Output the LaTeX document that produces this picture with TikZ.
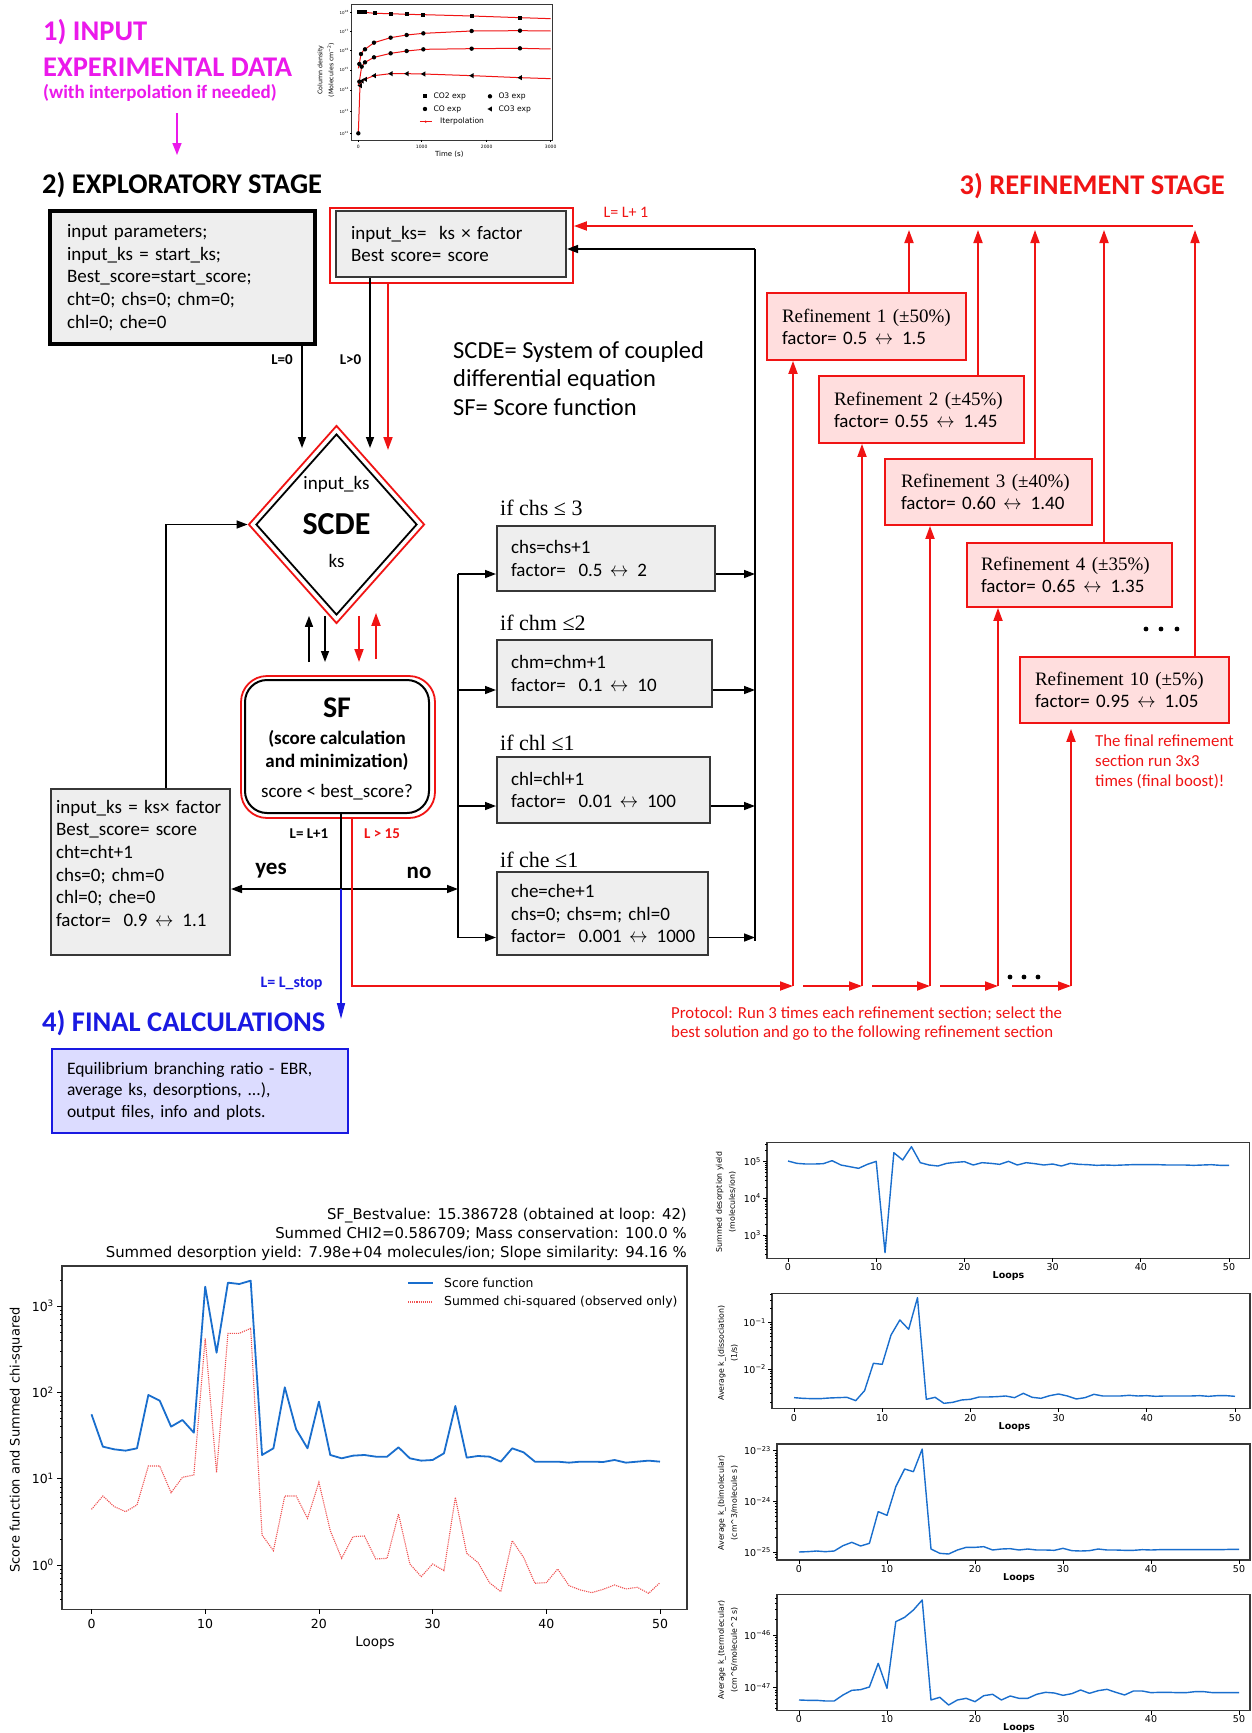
\documentclass[tikz,border=0pt]{standalone}
\usepackage{fontspec}
\usepackage{graphicx}
\setmainfont{Carlito}
\newfontfamily\tms{Liberation Serif}
\newfontfamily\plt{DejaVu Sans}
\usetikzlibrary{arrows.meta,shapes.geometric}
\definecolor{rd}{RGB}{240,20,20}
\definecolor{mag}{RGB}{235,25,235}
\definecolor{bl}{RGB}{25,25,225}
\definecolor{gfill}{RGB}{238,238,238}
\definecolor{pfill}{RGB}{255,222,222}
\definecolor{bfill}{RGB}{220,220,255}
\definecolor{pblue}{RGB}{25,110,205}
\definecolor{pred}{RGB}{240,80,80}
\definecolor{axc}{RGB}{55,55,55}
\newcommand\fsz[2]{\fontsize{#1}{#2}\selectfont}
\newcommand\lra{\kern1pt\scalebox{1.08}[1.2]{$\leftrightarrow$}\kern2.5pt}
\newcommand\minorticks[7]{%
  \foreach \ee in {#4,...,#5}{\foreach \kk in {2,...,9}{%
    \pgfmathsetmacro\yy{#2-#3*(\ee+log10(\kk))}%
    \pgfmathtruncatemacro\ok{and(\yy>#6,\yy<#7)}%
    \ifnum\ok=1 \draw[tk] (#1,\yy) -- ++(-2.5pt,0pt);\fi}}}
\tikzset{
  arr/.style={line width=1.5pt,-{Triangle[length=11pt,width=8pt]}},
  rarr/.style={draw=rd,line width=1.8pt,-{Triangle[length=13pt,width=9pt]}},
  barr/.style={draw=bl,line width=1.6pt,-{Triangle[length=16pt,width=8pt]}},
  gbox/.style={draw=axc,line width=2pt,fill=gfill,inner sep=0pt,align=left,font=\fsz{19}{22.7}},
  pbox/.style={draw=rd,line width=1.8pt,fill=pfill,inner sep=0pt,align=left,font=\fsz{19}{22}},
  lbl/.style={inner sep=0pt,font=\bfseries\fsz{15}{18}},
  ttl/.style={inner sep=0pt,anchor=west,font=\bfseries\fsz{28.5}{32}},
  txt/.style={inner sep=0pt},
  tk/.style={line width=0.8pt,draw=black},
  ax/.style={line width=1.2pt,draw=axc},
  pline/.style={line width=1.8pt,draw=pblue,line join=round},
  sline/.style={line width=1.4pt,draw=pblue,line join=round},
  rline/.style={line width=1.1pt,draw=pred,densely dotted},
  tiny/.style={inner sep=0pt,font=\plt\fsz{9.5}{12}},
}
\begin{document}
\begin{tikzpicture}[x=1pt,y=-1pt]
\useasboundingbox (0,0) rectangle (1251,1733);
\fill[white] (0,0) rectangle (1251,1733);

% ================= 1) INPUT =================
\node[ttl,text=mag] (t1a) at (43,32) {1) INPUT};
\node[ttl,text=mag] (t1b) at (43,67) {EXPERIMENTAL DATA};
\node[ttl,text=mag,font=\bfseries\fsz{19}{22}] (t1c) at (43,93) {(with interpolation if needed)};
\coordinate (mA) at (177,113);
\coordinate (mB) at (177,155);
\draw[draw=mag,line width=1.5pt,-{Triangle[length=12pt,width=9pt]}] (mA) -- (mB);

% small input plot
\begin{scope}[shift={(300,0)},x=0.3333pt,y=-0.3333pt]
  \draw[line width=0.9pt,draw=axc] (155,14) rectangle (757,420);
  \foreach \xx/\lab in {175/0,365/1000,560/2000,752/3000}{
    \draw[line width=0.6pt] (\xx,420) -- ++(0pt,-2pt);
    \node[txt,font=\plt\fsz{4.5}{5}] (sx\lab) at (\xx,440) {\lab};}
  \foreach \yv/\lab in {37/18,95/17,152/16,210/15,270/14,335/13,400/12}{
    \draw[line width=0.6pt] (155,\yv) -- ++(-2pt,0pt);
    \node[anchor=east,inner sep=1pt,font=\plt\fsz{4}{5}] (sy\lab) at (150,\yv) {10\textsuperscript{\lab}};}
  \node[txt,font=\plt\fsz{7}{8}] (stime) at (448,462) {Time (s)};
  \node[txt,rotate=90,align=center,font=\plt\fsz{6.3}{11}] (sylab) at (78,210) {Column density\\(Molecules cm\textsuperscript{−2})};
  \draw[rd,line width=1pt] (175,37) -- (186,37) -- (194,37) -- (225,40) -- (272,41) -- (320,43) -- (370,44) -- (515,48) -- (660,53) -- (752,56);
  \draw[rd,line width=1pt] (175,205) -- (178,192) -- (183,162) -- (190,152) -- (195,148) -- (222,128) -- (272,113) -- (320,105) -- (370,100) -- (515,93) -- (660,92) -- (752,93);
  \draw[rd,line width=1pt] (175,255) -- (178,245) -- (185,200) -- (195,187) -- (222,172) -- (272,160) -- (320,153) -- (370,148) -- (515,146) -- (660,145) -- (752,147);
  \draw[rd,line width=1pt] (175,400) -- (180,257) -- (185,243) -- (195,238) -- (222,227) -- (272,221) -- (320,221) -- (370,222) -- (515,227) -- (660,233) -- (752,236);
  \foreach \pa/\pb in {178/37,186/37,194/37,225/40,272/41,320/43,370/44,515/48,660/53}
    \fill (\pa,\pb) ++(-2.1pt,-2.1pt) rectangle ++(4.2pt,4.2pt);
  \foreach \pa/\pb in {178/192,183/162,195/148,222/128,272/113,320/105,370/100,515/93,660/92,178/245,185/200,195/187,222/172,272/160,320/153,370/148,515/146,660/145,175/400}
    \fill (\pa,\pb) circle[radius=2.2pt];
  \foreach \pa/\pb in {180/257,185/243,195/238,222/227,272/221,320/221,370/222,515/227,660/233}
    \fill (\pa,\pb) ++(-2.5pt,0pt) -- ++(4.5pt,2.6pt) -- ++(0pt,-5.2pt) -- cycle;
  % legend
  \fill (375,289) ++(-2.1pt,-2.1pt) rectangle ++(4.2pt,4.2pt);
  \fill (570,289) circle[radius=2.2pt];
  \fill (375,327) circle[radius=2.2pt];
  \fill (570,327) ++(-2.5pt,0pt) -- ++(4.5pt,2.6pt) -- ++(0pt,-5.2pt) -- cycle;
  \draw[rd,line width=1pt] (360,365) -- (395,365);
  \fill[rd] (377,365) circle[radius=1.2pt];
  \node[txt,anchor=west,font=\plt\fsz{7.6}{9}] (lg1) at (400,289) {CO2 exp};
  \node[txt,anchor=west,font=\plt\fsz{7.6}{9}] (lg2) at (595,289) {O3 exp};
  \node[txt,anchor=west,font=\plt\fsz{7.6}{9}] (lg3) at (400,327) {CO exp};
  \node[txt,anchor=west,font=\plt\fsz{7.6}{9}] (lg4) at (595,327) {CO3 exp};
  \node[txt,anchor=west,font=\plt\fsz{7.6}{9}] (lg5) at (420,365) {Iterpolation};
\end{scope}

% ================= titles =================
\node[ttl] (t2) at (42,185) {2) EXPLORATORY STAGE};
\node[ttl,anchor=east,text=rd] (t3) at (1225,186) {3) REFINEMENT STAGE};

% ================= exploratory stage =================
\node[draw=black,line width=3.5pt,fill=gfill,inner sep=0pt,minimum width=265pt,minimum height=133pt,text width=231pt,align=left,font=\fsz{19}{22.7}] (boxA) at (182.5,277.5)
  {input parameters;\\input\_ks = start\_ks;\\Best\_score=start\_score;\\\mbox{cht=0; chs=0; chm=0;}\\chl=0; che=0};
\node[draw=rd,line width=1.8pt,minimum width=243pt,minimum height=75pt,inner sep=0pt] (boxBo) at (451.5,245.5) {};
\node[gbox,minimum width=230pt,minimum height=66pt,text width=200pt] (boxB) at (451,244)
  {\mbox{input\_ks=\ \ ks × factor}\\Best score= score};

\node[txt,anchor=west,align=left,font=\fsz{24.5}{28.5}] (expl) at (453,378.5) {SCDE= System of coupled\\differential equation\\SF= Score function};

% diamond
\node[diamond,draw=rd,line width=1.8pt,minimum width=176pt,minimum height=198pt,inner sep=0pt] (scdeo) at (336.5,524.5) {};
\node[diamond,draw=black,line width=1.8pt,minimum width=161pt,minimum height=181pt,inner sep=0pt] (scde) at (336.5,524.5) {};
\node[txt,font=\fsz{19}{22}] (scdeA) at (336.5,484) {input\_ks};
\node[txt,font=\bfseries\fsz{32}{36}] (scdeB) at (336.5,524) {SCDE};
\node[txt,font=\fsz{19}{22}] (scdeC) at (336.5,561) {ks};

% SF
\node[draw=rd,line width=1.8pt,rounded corners=26pt,minimum width=194pt,minimum height=142pt,inner sep=0pt] (sfo) at (338,747) {};
\node[draw=black,line width=2pt,rounded corners=22pt,minimum width=184pt,minimum height=133pt,inner sep=0pt] (sf) at (337,746.5) {};
\node[txt,font=\bfseries\fsz{30}{34}] (sfA) at (337,708) {SF};
\node[txt,font=\bfseries\fsz{19}{22}] (sfB) at (337,739) {(score calculation};
\node[txt,font=\bfseries\fsz{19}{22}] (sfC) at (337,762) {and minimization)};
\node[txt,font=\fsz{19}{22}] (sfD) at (337,792) {score < best\_score?};

% yes box
\node[gbox,minimum width=179pt,minimum height=166pt,text width=169pt] (yes) at (140.5,872)
  {\mbox{input\_ks = ks× factor}\\Best\_score= score\\cht=cht+1\\chs=0; chm=0\\chl=0; che=0\\\mbox{factor=\ \ 0.9 \lra\ 1.1}\\[-5pt]\mbox{}};

% condition boxes
\node[txt,anchor=west,font=\tms\fsz{22}{24}] (ifchs) at (500,508) {if chs ≤ 3};
\node[txt,anchor=west,font=\tms\fsz{22}{24}] (ifchm) at (500,623) {if chm ≤2};
\node[txt,anchor=west,font=\tms\fsz{22}{24}] (ifchl) at (500,743) {if chl ≤1};
\node[txt,anchor=west,font=\tms\fsz{22}{24}] (ifche) at (500,860) {if che ≤1};
\node[gbox,minimum width=218pt,minimum height=65pt,text width=190pt] (chs) at (606,558.5) {chs=chs+1\\\mbox{factor=\ \ 0.5 \lra\ 2}};
\node[gbox,minimum width=215pt,minimum height=67pt,text width=187pt] (chm) at (604.5,673.5) {chm=chm+1\\\mbox{factor=\ \ 0.1 \lra\ 10}};
\node[gbox,minimum width=213pt,minimum height=66pt,text width=185pt] (chl) at (603.5,790) {chl=chl+1\\\mbox{factor=\ \ 0.01 \lra\ 100}};
\node[gbox,minimum width=211pt,minimum height=83pt,text width=183pt] (che) at (602.5,913.5) {che=che+1\\\mbox{chs=0; chs=m; chl=0}\\\mbox{factor=\ \ 0.001 \lra\ 1000}};

% labels
\node[lbl] (L0) at (282,360) {L=0};
\node[lbl] (Lg0) at (350.5,360) {L>0};
\node[lbl] (Lp1) at (309,834) {L= L+1};
\node[lbl,text=rd] (L15) at (382,834) {L > 15};
\node[txt,text=rd,font=\fsz{16}{18}] (Lt) at (626,212) {L= L+ 1};
\node[lbl,text=bl,font=\bfseries\fsz{16}{18}] (Ls) at (291.5,984) {L= L\_stop};
\node[lbl,font=\bfseries\fsz{23}{26}] (yesL) at (271,871) {yes};
\node[lbl,font=\bfseries\fsz{23}{26}] (noL) at (419,873) {no};

% coordinates
\coordinate (c0) at (302,448);
\coordinate (c1) at (370,448);
\coordinate (c2) at (388,450);
\coordinate (a1) at (309,0);
\coordinate (a2) at (325,0);
\coordinate (a3) at (359,0);
\coordinate (a4) at (376,0);
\coordinate (lp) at (166,0);
\coordinate (lb) at (458,0);
\coordinate (rb) at (755,0);
\coordinate (rbT) at (755,249);
\coordinate (J) at (341,889);
\coordinate (F) at (341,1019);
\coordinate (rdn) at (352,986);
\coordinate (chsL) at ([yshift=-15.5pt]chs.west);
\coordinate (chmL) at ([yshift=-16.5pt]chm.west);
\coordinate (chlL) at ([yshift=-16pt]chl.west);
\coordinate (cheL) at ([yshift=-24pt]che.west);
\coordinate (chsR) at ([yshift=-15.5pt]chs.east);
\coordinate (chmR) at ([yshift=-16.5pt]chm.east);
\coordinate (chlR) at ([yshift=-16pt]chl.east);
\coordinate (cheR) at ([yshift=-24pt]che.east);

% connectors (black)
\draw[arr] (boxA.south -| c0) -- (c0);
\draw[arr] (boxB.south -| c1) -- (c1);
\draw[rarr] (boxBo.south -| c2) -- (c2);
\draw[arr,shorten <=17pt] (sf.north -| a1) -- (scde.south -| a1);
\draw[arr,shorten >=17pt] (scde.south -| a2) -- (sf.north -| a2);
\draw[rarr,shorten >=17pt] (scde.south -| a3) -- (sf.north -| a3);
\draw[rarr,shorten <=20pt,shorten >=-3pt] (sf.north -| a4) -- (scde.south -| a4);
\draw[arr] (yes.north -| lp) |- (scdeo.west);
\draw[line width=1.5pt] (J |- sf.south) -- (J);
\draw[arr] (J) -- (J -| yes.east);
\draw[arr] (J) -- (J -| lb);
\draw[line width=1.5pt] (chsL -| lb) -- (cheL -| lb);
\draw[arr] (chsL -| lb) -- (chsL);
\draw[arr] (chmL -| lb) -- (chmL);
\draw[arr] (chlL -| lb) -- (chlL);
\draw[arr] (cheL -| lb) -- (cheL);
\draw[arr] (chsR) -- (chsR -| rb);
\draw[arr] (chmR) -- (chmR -| rb);
\draw[arr] (chlR) -- (chlR -| rb);
\draw[arr] (cheR) -- (cheR -| rb);
\draw[line width=1.5pt] (rbT) -- ([yshift=-3pt]cheR -| rb);
\draw[arr] (rbT) -- (rbT -| boxB.east);
\draw[barr] (J) -- (F);

% ================= refinement stage =================
\node[pbox,minimum width=199pt,minimum height=67pt,text width=169pt] (ref1) at (866.5,326.5) {\mbox{\tms Refinement 1 (±50\%)}\\\mbox{factor= 0.5 \lra\ 1.5}};
\node[pbox,minimum width=205pt,minimum height=67pt,text width=175pt] (ref2) at (921.5,409.5) {\mbox{\tms Refinement 2 (±45\%)}\\\mbox{factor= 0.55 \lra\ 1.45}};
\node[pbox,minimum width=207pt,minimum height=66pt,text width=175pt] (ref3) at (988.5,492) {\mbox{\tms Refinement 3 (±40\%)}\\\mbox{factor= 0.60 \lra\ 1.40}};
\node[pbox,minimum width=205pt,minimum height=64pt,text width=177pt] (ref4) at (1069.5,575) {\mbox{\tms Refinement 4 (±35\%)}\\\mbox{factor= 0.65 \lra\ 1.35}};
\node[pbox,minimum width=209pt,minimum height=66pt,text width=179pt] (ref10) at (1124.5,690) {\mbox{\tms Refinement 10 (±5\%)}\\\mbox{factor= 0.95 \lra\ 1.05}};

\coordinate (tR) at (1193,226);
\coordinate (u1) at (909,230);
\coordinate (u2) at (978,230);
\coordinate (u3) at (1035,230);
\coordinate (u4) at (1104,230);
\coordinate (u5) at (1195,230);
\coordinate (k1) at (793,986);
\coordinate (k2s) at (803,986);
\coordinate (k2) at (862,986);
\coordinate (k3s) at (872,986);
\coordinate (k3) at (930,986);
\coordinate (k4s) at (940,986);
\coordinate (k4) at (998,986);
\coordinate (k5s) at (1012,986);
\coordinate (k5) at (1071,986);

\draw[rarr] (tR) -- (tR -| boxBo.east);
\draw[rarr] (ref1.north -| u1) -- (u1);
\draw[rarr] (ref2.north -| u2) -- (u2);
\draw[rarr] (ref3.north -| u3) -- (u3);
\draw[rarr] (ref4.north -| u4) -- (u4);
\draw[rarr] (ref10.north -| u5) -- (u5);

\draw[rarr] (rdn |- sfo.south) -- (rdn) -- (k1);
\draw[rarr] (k1) -- (k1 |- ref1.south);
\draw[rarr] (k2s) -- (k2);
\draw[rarr] (k2) -- (k2 |- ref2.south);
\draw[rarr] (k3s) -- (k3);
\draw[rarr] (k3) -- (k3 |- ref3.south);
\draw[rarr] (k4s) -- (k4);
\draw[rarr] (k4) -- (k4 |- ref4.south);
\draw[rarr] (k5s) -- (k5);
\draw[rarr,shorten >=5pt] (k5) -- (k5 |- ref10.south);

\foreach \dx in {1146,1161,1177} \fill (\dx,629) circle[radius=2.4pt];
\foreach \dx in {1010,1024,1038} \fill (\dx,977) circle[radius=2.4pt];

\node[txt,anchor=west,align=left,text=rd,font=\fsz{16.8}{20}] (fnote) at (1095,762) {The final refinement\\section run 3x3\\times (final boost)!};
\node[txt,anchor=west,align=left,text=rd,font=\fsz{16.8}{19.5}] (prot) at (671,1023.5) {Protocol: Run 3 times each refinement section; select the\\best solution and go to the following refinement section};

% ================= final calculations =================
\node[ttl,text=bl] (t4) at (42,1023) {4) FINAL CALCULATIONS};
\node[draw=bl,line width=1.8pt,fill=bfill,inner sep=0pt,minimum width=296pt,minimum height=84pt,text width=266pt,align=left,font=\fsz{17.5}{21.5}] (fin) at (200,1091)
  {\mbox{Equilibrium branching ratio - EBR,}\\\mbox{average ks, desorptions, ...),}\\\mbox{output files, info and plots.}};

% ================= big plot =================
\node[txt,anchor=east,align=right,font=\plt\fsz{14.9}{19}] (ptitle) at (687,1234)
  {SF\_Bestvalue: 15.386728 (obtained at loop: 42)\\Summed CHI2=0.586709; Mass conservation: 100.0 \%\\Summed desorption yield: 7.98e+04 molecules/ion; Slope similarity: 94.16 \%};
\node[txt,rotate=90,font=\plt\fsz{13}{16}] (pylab) at (16,1440) {Score function and Summed chi-squared};
\node[txt,font=\plt\fsz{13.5}{16}] (pxlab) at (375,1643) {Loops};
\draw[line width=2.2pt,draw=pblue] (408,1283) -- (433,1283);
\draw[rline] (408,1302) -- (433,1302);
\node[txt,anchor=west,font=\plt\fsz{12.4}{15}] (leg1) at (444,1283) {Score function};
\node[txt,anchor=west,font=\plt\fsz{12.4}{15}] (leg2) at (444,1302) {Summed chi-squared (observed only)};
\begin{scope}[shift={(91.5,1190)},x=11.37pt,y=-0.3333pt]
  \draw[ax] (-2.594,228) rectangle (52.375,1258);
  \foreach \xx in {0,10,...,50}{
    \draw[tk] (\xx,1258) -- ++(0pt,-5pt);
    \node[txt,font=\plt\fsz{12.5}{15}] (bx\xx) at (\xx,1303) {\xx};}
  \foreach \yv/\ee in {348/3,607/2,866/1,1125/0}{
    \draw[tk] (-2.594,\yv) -- ++(-5pt,0pt);
    \node[txt,anchor=east,xshift=-8pt,font=\plt\fsz{12.5}{15}] (by\ee) at (-2.594,\yv) {10\textsuperscript{\ee}};}
  \minorticks{-2.594}{1125}{259}{-1}{3}{228}{1258}
  \draw[rline] (0,958) foreach \vv [count=\ii] in {918,950,965,945,828,828,908,862,855,445,848,430,430,415,1035,1082,918,918,985,877,1022,1105,1040,1038,1107,1105,972,1122,1160,1122,1142,922,1090,1118,1178,1205,1052,1102,1180,1178,1137,1187,1200,1208,1198,1185,1197,1192,1210,1178} {-- (\ii,\vv)};
  \draw[pline] (0,673) foreach \vv [count=\ii] in {770,778,782,775,615,632,710,690,728,290,488,278,282,272,795,775,592,718,775,635,795,805,797,795,800,800,772,805,812,810,790,648,803,798,800,815,775,787,815,815,815,818,815,815,816,810,818,815,812,815} {-- (\ii,\vv)};
\end{scope}

% ================= right plots =================
\node[txt,rotate=90,align=center,font=\plt\fsz{7.8}{13}] (r1lab) at (726,1202) {Summed desorption yield\\(molecules/ion)};
\node[txt,rotate=90,align=center,font=\plt\fsz{7.8}{13}] (r2lab) at (728,1353) {Average k\_(dissociation)\\(1/s)};
\node[txt,rotate=90,align=center,font=\plt\fsz{7.8}{13}] (r3lab) at (728,1503) {Average k\_(bimolecular)\\(cm\textasciicircum 3/molecule s)};
\node[txt,rotate=90,align=center,font=\plt\fsz{7.8}{13}] (r4lab) at (728,1650) {Average k\_(termolecular)\\(cm\textasciicircum 6/molecule\textasciicircum 2 s)};

% R1
\begin{scope}[shift={(788,1140)},x=8.82pt,y=-0.3333pt]
  \draw[ax] (-2.38,8) rectangle (52.3,355);
  \foreach \xx in {0,10,...,50}{
    \draw[tk] (\xx,355) -- ++(0pt,-4pt);
    \node[tiny] (r1x\xx) at (\xx,381) {\xx};}
  \node[tiny,font=\plt\bfseries\fsz{9.5}{12}] (r1L) at (25,409) {Loops};
  \foreach \yv/\ee in {65/5,175/4,285/3}{
    \draw[tk] (-2.38,\yv) -- ++(-4pt,0pt);
    \node[tiny,anchor=east,xshift=-6pt] (r1y\ee) at (-2.38,\yv) {10\textsuperscript{\ee}};}
  \minorticks{-2.38}{615}{110}{2}{5}{8}{355}
  \draw[sline] (0,63) foreach \vv [count=\ii] in {70,72,72,71,62,75,80,85,73,64,338,38,60,20,68,75,78,70,67,65,75,68,70,73,64,75,68,71,75,72,78,70,73,74,76,75,76,75,74,74,74,74,75,75,75,76,75,74,76,76} {-- (\ii,\vv)};
\end{scope}
% R2
\begin{scope}[shift={(794,1140)},x=8.82pt,y=-0.3333pt]
  \draw[ax] (-2.49,460) rectangle (51.7,805);
  \foreach \xx in {0,10,...,50}{
    \draw[tk] (\xx,805) -- ++(0pt,-4pt);
    \node[tiny] (r2x\xx) at (\xx,833) {\xx};}
  \node[tiny,font=\plt\bfseries\fsz{9.5}{12}] (r2L) at (25,861) {Loops};
  \foreach \yv/\ee/\nm in {548/−1/a,688/−2/b}{
    \draw[tk] (-2.49,\yv) -- ++(-4pt,0pt);
    \node[tiny,anchor=east,xshift=-6pt] (r2y\nm) at (-2.49,\yv) {10\textsuperscript{\ee}};}
  \minorticks{-2.49}{408}{140}{-3}{-1}{460}{805}
  \draw[sline] (0,773) foreach \vv [count=\ii] in {775,776,776,774,773,772,782,752,670,673,585,540,568,473,778,772,790,787,780,778,771,771,770,768,773,760,772,775,767,762,768,777,773,763,768,768,768,766,768,767,769,768,768,768,768,767,769,767,767,769} {-- (\ii,\vv)};
\end{scope}
% R3
\begin{scope}[shift={(799,1430)},x=8.8pt,y=-0.3333pt]
  \draw[ax] (-2.5,42) rectangle (51.25,390);
  \foreach \xx in {0,10,...,50}{
    \draw[tk] (\xx,390) -- ++(0pt,-4pt);
    \node[tiny] (r3x\xx) at (\xx,416) {\xx};}
  \node[tiny,font=\plt\bfseries\fsz{9.5}{12}] (r3L) at (25,443) {Loops};
  \foreach \yv/\ee/\nm in {62/−23/a,215/−24/b,367/−25/c}{
    \draw[tk] (-2.5,\yv) -- ++(-4pt,0pt);
    \node[tiny,anchor=east,xshift=-6pt] (r3y\nm) at (-2.5,\yv) {10\textsuperscript{\ee}};}
  \minorticks{-2.5}{-3445.5}{152.5}{-26}{-24}{42}{390}
  \draw[sline] (0,366) foreach \vv [count=\ii] in {365,363,365,363,347,337,348,340,245,256,170,117,125,57,357,370,372,360,352,352,350,360,357,356,360,357,360,360,361,355,362,363,362,357,360,360,361,361,359,360,359,359,359,359,359,359,359,359,358,358} {-- (\ii,\vv)};
\end{scope}
% R4
\begin{scope}[shift={(799,1430)},x=8.8pt,y=-0.3333pt]
  \draw[ax] (-2.5,493) rectangle (51.25,842);
  \foreach \xx in {0,10,...,50}{
    \draw[tk] (\xx,842) -- ++(0pt,-4pt);
    \node[tiny] (r4x\xx) at (\xx,866) {\xx};}
  \node[tiny,font=\plt\bfseries\fsz{9.5}{12}] (r4L) at (25,895) {Loops};
  \foreach \yv/\ee/\nm in {615/−46/a,773/−47/b}{
    \draw[tk] (-2.5,\yv) -- ++(-4pt,0pt);
    \node[tiny,anchor=east,xshift=-6pt] (r4y\nm) at (-2.5,\yv) {10\textsuperscript{\ee}};}
  \minorticks{-2.5}{-6653}{158}{-48}{-46}{493}{842}
  \draw[sline] (0,810) foreach \vv [count=\ii] in {811,811,813,813,795,781,779,771,700,775,575,562,540,510,810,802,825,810,805,815,797,793,810,798,805,805,793,787,789,796,791,780,790,782,778,787,795,783,783,788,787,787,788,788,785,785,788,788,788,788} {-- (\ii,\vv)};
\end{scope}
\end{tikzpicture}
\end{document}
